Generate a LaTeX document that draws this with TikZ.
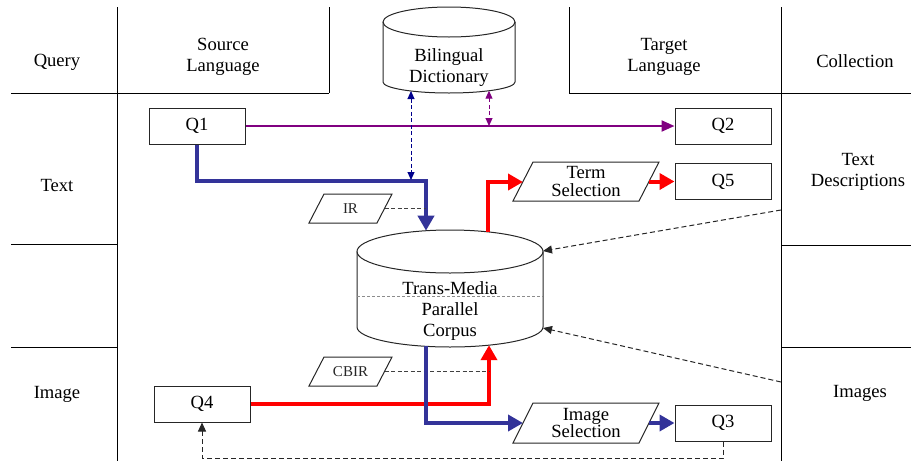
\documentclass[tikz,border=0pt]{standalone}
\usepackage{fontspec}
\setmainfont{Liberation Serif}
\usetikzlibrary{arrows.meta}
\definecolor{qblue}{RGB}{51,51,153}
\definecolor{qpurple}{RGB}{128,0,128}
\definecolor{qred}{RGB}{255,0,0}
\definecolor{qnavy}{RGB}{0,0,140}
\newcommand{\paraoutline}[4]{%
  \draw[shapeline] ([shift={(-#2-#4,#3)}]#1.center) -- ([shift={(-#2+#4,-#3)}]#1.center)
    -- ([shift={(#2+#4,-#3)}]#1.center) -- ([shift={(#2-#4,#3)}]#1.center) -- cycle;}
\begin{document}
\begin{tikzpicture}[x=1pt,y=-1pt,
  font=\fontsize{18.6}{21}\selectfont,
  gridline/.style={line width=1pt, black},
  shapeline/.style={line width=1pt, black!85},
  qbox/.style={draw=black!85, line width=1pt, minimum width=96pt, minimum height=36pt, inner sep=0pt},
  lbl/.style={align=center, inner sep=0pt},
  plbl/.style={align=center, inner sep=0pt, font=\fontsize{18.6}{17.5}\selectfont},
  smalllbl/.style={inner sep=0pt, font=\fontsize{15}{16}\selectfont, black!85},
  bigtip/.style={-{Triangle[length=15pt,width=16pt]}},
  bluethick/.style={bigtip, draw=qblue, line width=4pt, line join=miter},
  redthick/.style={bigtip, draw=qred, line width=4pt, line join=miter},
  purpline/.style={-{Triangle[length=13pt,width=11pt]}, draw=qpurple, line width=2.2pt},
  dashdouble/.style={{Triangle[length=8pt,width=7pt]}-{Triangle[length=8pt,width=7pt]}, line width=1pt, dash pattern=on 4pt off 2.5pt},
  dasharrow/.style={-{Triangle[length=9pt,width=8pt]}, line width=1pt, black!85, dash pattern=on 5pt off 3pt},
  ctrldash/.style={line width=1pt, black!75, dash pattern=on 4pt off 2.5pt}
]
\useasboundingbox (0,0) rectangle (911,461);

% grid
\draw[gridline] (117,7) -- (117,461);
\draw[gridline] (781,7) -- (781,461);
\draw[gridline] (329,7) -- (329,93);
\draw[gridline] (569,7) -- (569,93);
\draw[gridline] (11,93) -- (329,93);
\draw[gridline] (569,93) -- (911,93);
\draw[gridline] (11,244) -- (117,244);
\draw[gridline] (11,347) -- (117,347);
\draw[gridline] (781,245) -- (911,245);
\draw[gridline] (781,347) -- (911,347);

% header / row labels
\node[lbl] (hquery) at (57,62) {Query};
\node[lbl] (hsrc) at (223,57) {Source\\Language};
\node[lbl] (htgt) at (664,57) {Target\\Language};
\node[lbl] (hcoll) at (855,61) {Collection};
\node[lbl] (rtext) at (57,185) {Text};
\node[lbl] (rdesc) at (858,172) {Text\\Descriptions};
\node[lbl] (rimage) at (57,394) {Image};
\node[lbl] (rimages) at (860,393) {Images};

% bilingual dictionary cylinder
\draw[shapeline] (449,22) ellipse[x radius=66, y radius=15];
\draw[shapeline] (383,22) -- (383,82) arc[start angle=180, end angle=0, x radius=66, y radius=11] -- (515,22);
\node[lbl] (dict) at (449,68) {Bilingual\\Dictionary};
\coordinate (dictA) at (411,91);
\coordinate (dictB) at (489,90.7);

% corpus cylinder
\draw[shapeline] (450,251.5) ellipse[x radius=93, y radius=21.5];
\draw[shapeline] (357,251.5) -- (357,327) arc[start angle=180, end angle=0, x radius=93, y radius=20] -- (543,251.5);
\draw[black!45, line width=0.8pt, dash pattern=on 3pt off 2pt] (357,296) -- (543,296);
\node[lbl] (corpus) at (450,311) {Trans-Media\\Parallel\\Corpus};
\coordinate (ctA) at (426,230.7);
\coordinate (ctB) at (488,232);
\coordinate (ctR) at (543,251);
\coordinate (cbA) at (426,346.3);
\coordinate (cbB) at (489,345.2);
\coordinate (cbR) at (543,328);

% query boxes
\node[qbox] (q1) at (197,126) {Q1};
\node[qbox] (q2) at (723,126) {Q2};
\node[qbox] (q5) at (723,181.5) {Q5};
\node[qbox] (q4) at (202,404) {Q4};
\node[qbox] (q3) at (723,423) {Q3};

% parallelograms
\node[plbl] (ts) at (586,181.5) {Term\\Selection};
\paraoutline{ts}{63}{19.5}{10}
\coordinate (tsL) at (523,182);
\coordinate (tsR) at (649,181.5);
\node[plbl] (is) at (586,423) {Image\\Selection};
\paraoutline{is}{63}{20}{10}
\coordinate (isL) at (523,423);
\coordinate (isR) at (649,423);
\node[smalllbl] (ir) at (350.5,208.5) {IR};
\paraoutline{ir}{34}{14.5}{7.5}
\coordinate (irR) at (384.5,208.5);
\coordinate (irJ) at (426,208.5);
\node[smalllbl] (cbir) at (350.5,371.5) {CBIR};
\paraoutline{cbir}{34}{14.5}{7.5}
\coordinate (cbirR) at (384.5,371.5);
\coordinate (cbirJ) at (489,371.5);

% junction coordinates
\coordinate (pj) at (489,126);
\coordinate (bj) at (411,180);
\coordinate (b1) at (426,181);
\coordinate (r1) at (488,182);
\coordinate (r2) at (489,404);
\coordinate (b2) at (426,423);
\coordinate (d1) at (723,458);
\coordinate (d2) at (202,458);
\coordinate (tdS) at (781,210);
\coordinate (imS) at (781,382);

% connectors
\draw[purpline] (q1.east) -- (q2.west);
\draw[dashdouble, qpurple] (dictB) -- (pj);
\draw[bluethick] (q1.south) |- (b1) -- (ctA);
\draw[dashdouble, qnavy] (dictA) -- (bj);
\draw[ctrldash] (irR) -- (irJ);
\draw[redthick] (ctB) -- (r1) -- (tsL);
\draw[redthick] (tsR) -- (q5.west);
\draw[redthick] (q4.east) -- (r2) -- (cbB);
\draw[ctrldash] (cbirR) -- (cbirJ);
\draw[bluethick] (cbA) -- (b2) -- (isL);
\draw[bluethick] (isR) -- (q3.west);
\draw[dasharrow] (q3.south) -- (d1) -- (d2) -- (q4.south);
\draw[dasharrow] (tdS) -- (ctR);
\draw[dasharrow] (imS) -- (cbR);
\end{tikzpicture}
\end{document}
